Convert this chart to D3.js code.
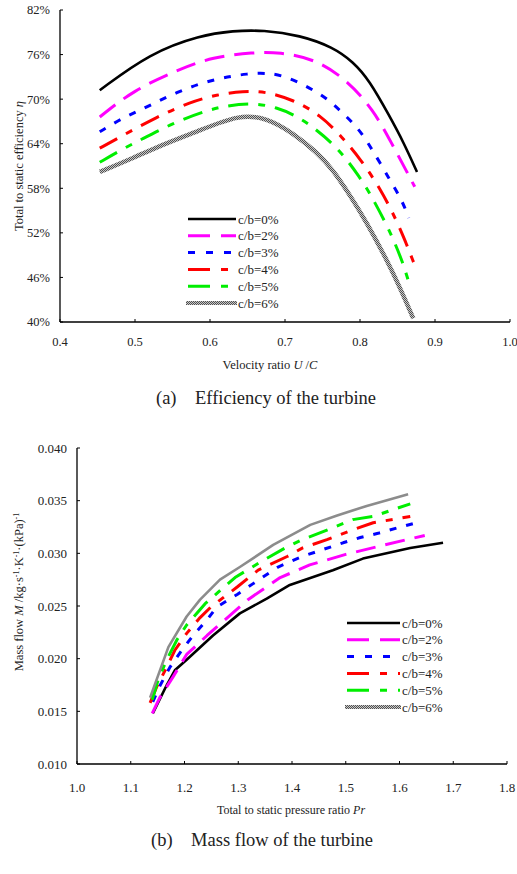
<!DOCTYPE html>
<html><head><meta charset="utf-8">
<script src="https://cdn.jsdelivr.net/npm/d3@7"></script>
<style>
body{margin:0;background:#fff}
svg{display:block}
text{font-family:"Liberation Serif","Times New Roman",serif;fill:#222}
</style></head><body>
<svg id="c" width="517" height="874"></svg>
<script>
// ---------- data ----------
const seriesNames = ["c/b=0%","c/b=2%","c/b=3%","c/b=4%","c/b=5%","c/b=6%"];

// (a) efficiency: [U/C, eta %]
const eff0 = [[0.453,71.2],[0.52,76.2],[0.587,78.6],[0.631,79.2],[0.671,79.3],[0.72,78.6],[0.764,77.0],[0.791,75.0],[0.812,72.6],[0.84,67.6],[0.858,64.2],[0.876,60.2]];
const eff2 = [[0.453,67.6],[0.498,71.2],[0.556,73.9],[0.604,75.7],[0.658,76.3],[0.693,76.3],[0.738,75.5],[0.783,72.6],[0.818,68.5],[0.84,64.5],[0.873,58.2]];
const eff3 = [[0.453,65.6],[0.484,67.5],[0.507,68.5],[0.556,71.0],[0.604,72.7],[0.653,73.5],[0.678,73.5],[0.702,73.1],[0.751,70.6],[0.773,68.5],[0.796,66.3],[0.813,63.8],[0.84,59.1],[0.856,56.4],[0.865,54.0]];
const eff4 = [[0.453,63.4],[0.48,64.9],[0.529,67.6],[0.573,69.6],[0.609,70.6],[0.644,71.1],[0.676,71.0],[0.711,69.9],[0.747,67.9],[0.777,64.8],[0.8,62.0],[0.827,58.0],[0.849,53.6],[0.86,51.0],[0.872,47.9]];
const eff5 = [[0.453,61.5],[0.482,63.2],[0.507,64.5],[0.551,66.8],[0.596,68.5],[0.622,69.1],[0.658,69.5],[0.689,68.9],[0.716,67.7],[0.738,66.2],[0.764,64.0],[0.783,61.8],[0.798,59.7],[0.813,57.4],[0.836,53.0],[0.847,50.5],[0.857,48.0],[0.864,45.7]];
const eff6 = [[0.453,60.2],[0.498,62.1],[0.542,64.1],[0.587,65.8],[0.638,67.9],[0.676,67.5],[0.711,65.4],[0.742,62.9],[0.764,60.5],[0.787,57.0],[0.809,53.4],[0.836,48.3],[0.853,44.7],[0.871,40.5]];

// (b) mass flow: [Pr, M]
const mf0 = [[1.141,0.0148],[1.167,0.0175],[1.182,0.0189],[1.204,0.0199],[1.253,0.0222],[1.303,0.0243],[1.353,0.0257],[1.396,0.0270],[1.476,0.0284],[1.532,0.0295],[1.62,0.0305],[1.681,0.0310]];
const mf2 = [[1.14,0.0148],[1.154,0.0163],[1.179,0.0183],[1.204,0.0204],[1.242,0.0222],[1.291,0.0244],[1.318,0.0256],[1.378,0.0277],[1.433,0.0289],[1.5,0.0299],[1.564,0.0307],[1.647,0.0317]];
const mf3 = [[1.141,0.0159],[1.154,0.0174],[1.173,0.0192],[1.195,0.0208],[1.216,0.0222],[1.242,0.0237],[1.26,0.0249],[1.298,0.0261],[1.327,0.0271],[1.374,0.0287],[1.419,0.0297],[1.454,0.0303],[1.495,0.0310],[1.527,0.0315],[1.56,0.0319],[1.595,0.0324],[1.631,0.0329]];
const mf4 = [[1.136,0.0158],[1.148,0.0173],[1.167,0.0192],[1.182,0.0208],[1.204,0.0224],[1.229,0.0239],[1.249,0.0249],[1.298,0.0268],[1.337,0.0284],[1.391,0.0297],[1.419,0.0305],[1.465,0.0313],[1.517,0.0323],[1.551,0.0329],[1.62,0.0335]];
const mf5 = [[1.14,0.0161],[1.151,0.0180],[1.167,0.0199],[1.186,0.0218],[1.204,0.0232],[1.238,0.0252],[1.294,0.0277],[1.342,0.0292],[1.387,0.0305],[1.419,0.0313],[1.465,0.0322],[1.513,0.0332],[1.551,0.0335],[1.62,0.0347]];
const mf6 = [[1.136,0.0163],[1.170,0.0211],[1.204,0.0240],[1.229,0.0256],[1.266,0.0275],[1.303,0.0287],[1.365,0.0308],[1.434,0.0327],[1.484,0.0336],[1.539,0.0345],[1.616,0.0356]];

const effXTicks = [0.4,0.5,0.6,0.7,0.8,0.9,1.0];
const effYTicks = [40,46,52,58,64,70,76,82];
const mfXTicks = [1.0,1.1,1.2,1.3,1.4,1.5,1.6,1.7,1.8];
const mfYTicks = [0.010,0.015,0.020,0.025,0.030,0.035,0.040];

// ---------- styles ----------
const styles = [
  {stroke:"#000", width:2.6, dash:null},
  {stroke:"#ff00ff", width:3, dash:"20,10"},
  {stroke:"#0000ff", width:3, dash:"7,10"},
  {stroke:"#ff0000", width:3, dash:"20,10,7,10"},
  {stroke:"#00ee00", width:3, dash:"20,10,7,10"},
  {stroke:"url(#checker)", width:4, dash:null}
];

const svg = d3.select("#c");
svg.append("rect").attr("width",517).attr("height",874).attr("fill","#fff");
const defs = svg.append("defs");
const pat = defs.append("pattern").attr("id","checker").attr("patternUnits","userSpaceOnUse").attr("width",2).attr("height",2);
pat.append("rect").attr("width",2).attr("height",2).attr("fill","#c8c8c8");
pat.append("rect").attr("width",1).attr("height",1).attr("fill","#505050");
pat.append("rect").attr("x",1).attr("y",1).attr("width",1).attr("height",1).attr("fill","#505050");

function drawAxes(x, y, xTicks, yTicks, xFmt, yFmt, fs, xLabY) {
  const [x0,x1] = x.range(), [y0,y1] = y.range();
  const g = svg.append("g");
  g.append("line").attr("x1",x0).attr("x2",x1).attr("y1",y0).attr("y2",y0).attr("stroke","#000").attr("stroke-width",1.3);
  g.append("line").attr("x1",x0).attr("x2",x0).attr("y1",y0).attr("y2",y1).attr("stroke","#000").attr("stroke-width",1.3);
  xTicks.forEach(t=>{
    g.append("line").attr("x1",x(t)).attr("x2",x(t)).attr("y1",y0).attr("y2",y0-3).attr("stroke","#000").attr("stroke-width",1);
    g.append("text").attr("x",x(t)).attr("y",xLabY).attr("text-anchor","middle").attr("font-size",fs).text(xFmt(t));
  });
  yTicks.forEach(t=>{
    g.append("line").attr("x1",x0).attr("x2",x0+3).attr("y1",y(t)).attr("y2",y(t)).attr("stroke","#000").attr("stroke-width",1);
    g.append("text").attr("x",x0-10).attr("y",y(t)).attr("dy","0.35em").attr("text-anchor","end").attr("font-size",fs).text(yFmt(t));
  });
}

function drawSeries(data, x, y, curve, grayWidth, grayStroke) {
  data.forEach((d,i)=>{
    const s = styles[i];
    const line = d3.line().x(p=>x(p[0])).y(p=>y(p[1])).curve(curve);
    svg.append("path").attr("d", line(d)).attr("fill","none")
      .attr("stroke", i===5 ? grayStroke : s.stroke)
      .attr("stroke-width", i===5 ? grayWidth : s.width)
      .attr("stroke-dasharray", s.dash)
      .attr("stroke-linejoin","round");
  });
}

function drawLegend(lx0, lx1, ly0, dy, grayWidth, grayStroke) {
  seriesNames.forEach((n,i)=>{
    const s = styles[i];
    const yy = ly0 + i*dy;
    svg.append("line").attr("x1", i===5? lx0-2 : lx0).attr("x2", i===5 ? lx1+1 : lx1).attr("y1",yy).attr("y2",yy)
      .attr("stroke", i===5 ? grayStroke : s.stroke)
      .attr("stroke-width", i===5 ? grayWidth : s.width)
      .attr("stroke-dasharray", i===1 ? "22,11" : i===2 ? "7,11" : (i===3||i===4) ? "22,11,7,11" : null);
    svg.append("text").attr("x", lx1+2).attr("y", yy).attr("dy","0.35em").attr("font-size",13).text(n);
  });
}

// ---------- (a) ----------
const xA = d3.scaleLinear().domain([0.4,1.0]).range([60,510]);
const yA = d3.scaleLinear().domain([40,82]).range([322,10]);
drawAxes(xA, yA, effXTicks, effYTicks, d3.format(".1f"), v=>v+"%", 12.5, 346);
drawSeries([eff0,eff2,eff3,eff4,eff5,eff6], xA, yA, d3.curveBasis, 4.5, "url(#checker)");
drawLegend(188, 236, 219, 16.8, 4, "url(#checker)");

const tA = svg.append("text").attr("x",270).attr("y",369).attr("text-anchor","middle").attr("font-size",12.5);
tA.append("tspan").text("Velocity ratio ");
tA.append("tspan").attr("font-style","italic").text("U");
tA.append("tspan").text(" /");
tA.append("tspan").attr("font-style","italic").text("C");

const yTA = svg.append("text").attr("transform","translate(23,166) rotate(-90)").attr("text-anchor","middle").attr("font-size",12.5);
yTA.append("tspan").text("Total to static efficiency  ");
yTA.append("tspan").attr("font-style","italic").text("η");

svg.append("text").attr("x",266).attr("y",404).attr("text-anchor","middle").attr("font-size",18.5)
  .attr("xml:space","preserve").text("(a)    Efficiency of the turbine");

// ---------- (b) ----------
const xB = d3.scaleLinear().domain([1.0,1.8]).range([77,507]);
const yB = d3.scaleLinear().domain([0.010,0.040]).range([764,448]);
drawAxes(xB, yB, mfXTicks, mfYTicks, d3.format(".1f"), d3.format(".3f"), 13, 792);
drawSeries([mf0,mf2,mf3,mf4,mf5,mf6], xB, yB, d3.curveLinear, 2.6, "#8c8c8c");
drawLegend(347, 400, 623, 16.8, 4, "url(#checker)");

const tB = svg.append("text").attr("x",291).attr("y",814).attr("text-anchor","middle").attr("font-size",12);
tB.append("tspan").text("Total to static pressure ratio ");
tB.append("tspan").attr("font-style","italic").text("Pr");

const yTB = svg.append("text").attr("transform","translate(23,592) rotate(-90)").attr("text-anchor","middle").attr("font-size",12.5);
yTB.append("tspan").text("Mass flow ");
yTB.append("tspan").attr("font-style","italic").text("M");
yTB.append("tspan").text(" /kg·s");
yTB.append("tspan").attr("baseline-shift","super").attr("font-size",8).text("-1");
yTB.append("tspan").text("·K");
yTB.append("tspan").attr("baseline-shift","super").attr("font-size",8).text("-1");
yTB.append("tspan").text("·(kPa)");
yTB.append("tspan").attr("baseline-shift","super").attr("font-size",8).text("-1");

svg.append("text").attr("x",262).attr("y",846).attr("text-anchor","middle").attr("font-size",18.5)
  .attr("xml:space","preserve").text("(b)    Mass flow of the turbine");
</script>
</body></html>
